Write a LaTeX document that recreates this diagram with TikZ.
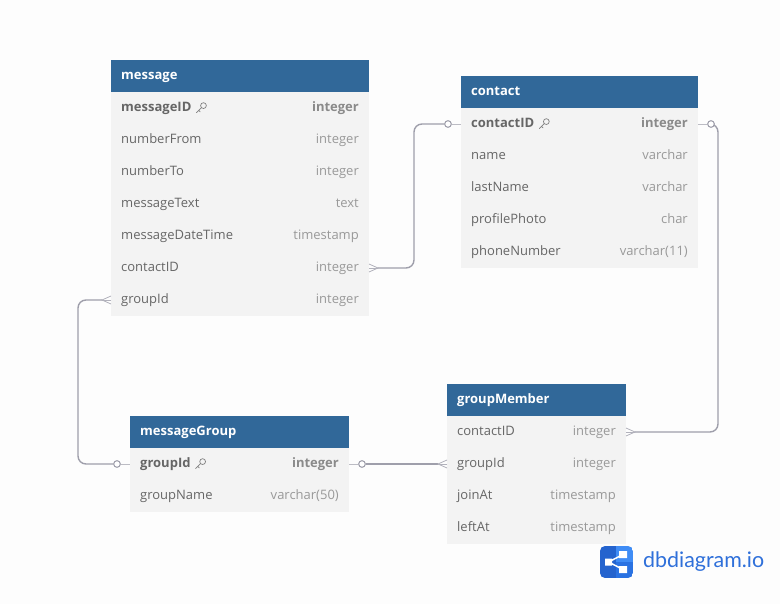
\documentclass[tikz,border=0pt]{standalone}
\usepackage{fontspec}
\setmainfont{Open Sans}
\newfontfamily\logofont{Lato}
\usetikzlibrary{positioning,calc}
\definecolor{headblue}{HTML}{316899}
\definecolor{rowgray}{HTML}{F3F3F3}
\definecolor{namegray}{HTML}{666666}
\definecolor{typegray}{HTML}{999999}
\definecolor{keytype}{HTML}{8A8A8A}
\definecolor{keyline}{HTML}{808080}
\definecolor{linegray}{HTML}{9F9FAB}
\definecolor{pagegray}{HTML}{FDFDFD}
\definecolor{logolight}{HTML}{3F8CF5}
\definecolor{logoblue}{HTML}{2A72E2}
\definecolor{logodark}{HTML}{2463CE}
\definecolor{logotext}{HTML}{2F70DA}
\tikzset{
  headbox/.style={anchor=north west,fill=headblue,minimum height=32pt,inner sep=0pt,outer sep=0pt},
  headtext/.style={anchor=west,text=white,font=\fontsize{13}{15}\selectfont\bfseries,inner sep=0pt,text height=9.5pt,text depth=3pt},
  rowbox/.style={anchor=north west,fill=rowgray,minimum height=32pt,inner sep=0pt,outer sep=0pt},
  nametext/.style={anchor=west,text=namegray,font=\fontsize{13}{15}\selectfont,inner sep=0pt,text height=9.5pt,text depth=3pt},
  typetext/.style={anchor=east,text=typegray,font=\fontsize{13}{15}\selectfont,inner sep=0pt,text height=9.5pt,text depth=3pt},
  keyname/.style={nametext,font=\fontsize{13}{15}\selectfont\bfseries},
  keytypetext/.style={typetext,text=keytype,font=\fontsize{13}{15}\selectfont\bfseries},
  relline/.style={draw=linegray,line width=1.4pt,rounded corners=8pt},
  thinline/.style={draw=linegray!70,line width=.8pt},
  crowline/.style={draw=linegray!80,line width=.8pt},
  onedot/.style={circle,draw=linegray,line width=.9pt,fill=white,minimum size=6.5pt,inner sep=0pt},
  keyicon/.pic={
    \draw[keyline,line width=.7pt] (2.4,-2.4) circle (2.9pt);
    \draw[keyline,line width=.7pt,line cap=round] (.4,-.4) -- (-4.6,4.6) (-2.4,2.4) -- (-.9,3.9);
  }
}
\begin{document}
\begin{tikzpicture}[x=1pt,y=-1pt]
  \useasboundingbox (0,0) rectangle (780,604);
  \fill[pagegray] (0,0) rectangle (780,604);
  % message
  \node[headbox,minimum width=258pt] (message) at (111,60) {};
  \node[headtext] (message-title) at ([xshift=10pt]message.west) {message};
  \node[rowbox,minimum width=258pt] (message-messageID) at (111,92) {};
  \node[keyname] (message-messageID-name) at ([xshift=10pt]message-messageID.west) {messageID};
  \node[keytypetext] (message-messageID-type) at ([xshift=-10pt]message-messageID.east) {integer};
  \path (message-messageID-name.east) ++(9.5,0) pic {keyicon};
  \foreach \fname/\ftype [count=\i] in {numberFrom/integer,numberTo/integer,messageText/text,messageDateTime/timestamp,contactID/integer,groupId/integer}{
    \node[rowbox,minimum width=258pt] (message-\fname) at (111,92+32*\i) {};
    \node[nametext] (message-\fname-name) at ([xshift=10pt]message-\fname.west) {\fname};
    \node[typetext] (message-\fname-type) at ([xshift=-10pt]message-\fname.east) {\ftype};
  }
  % contact
  \node[headbox,minimum width=237pt] (contact) at (461,76) {};
  \node[headtext] (contact-title) at ([xshift=10pt]contact.west) {contact};
  \node[rowbox,minimum width=237pt] (contact-contactID) at (461,108) {};
  \node[keyname] (contact-contactID-name) at ([xshift=10pt]contact-contactID.west) {contactID};
  \node[keytypetext] (contact-contactID-type) at ([xshift=-10pt]contact-contactID.east) {integer};
  \path (contact-contactID-name.east) ++(9.5,0) pic {keyicon};
  \foreach \fname/\ftype [count=\i] in {name/varchar,lastName/varchar,profilePhoto/char,phoneNumber/varchar(11)}{
    \node[rowbox,minimum width=237pt] (contact-\fname) at (461,108+32*\i) {};
    \node[nametext] (contact-\fname-name) at ([xshift=10pt]contact-\fname.west) {\fname};
    \node[typetext] (contact-\fname-type) at ([xshift=-10pt]contact-\fname.east) {\ftype};
  }
  % messageGroup
  \node[headbox,minimum width=219pt] (messageGroup) at (130,416) {};
  \node[headtext] (messageGroup-title) at ([xshift=10pt]messageGroup.west) {messageGroup};
  \node[rowbox,minimum width=219pt] (messageGroup-groupId) at (130,448) {};
  \node[keyname] (messageGroup-groupId-name) at ([xshift=10pt]messageGroup-groupId.west) {groupId};
  \node[keytypetext] (messageGroup-groupId-type) at ([xshift=-10pt]messageGroup-groupId.east) {integer};
  \path (messageGroup-groupId-name.east) ++(9.5,0) pic {keyicon};
  \node[rowbox,minimum width=219pt] (messageGroup-groupName) at (130,480) {};
  \node[nametext] (messageGroup-groupName-name) at ([xshift=10pt]messageGroup-groupName.west) {groupName};
  \node[typetext] (messageGroup-groupName-type) at ([xshift=-10pt]messageGroup-groupName.east) {varchar(50)};
  % groupMember
  \node[headbox,minimum width=179pt] (groupMember) at (447,384) {};
  \node[headtext] (groupMember-title) at ([xshift=10pt]groupMember.west) {groupMember};
  \foreach \fname/\ftype [count=\i from 0] in {contactID/integer,groupId/integer,joinAt/timestamp,leftAt/timestamp}{
    \node[rowbox,minimum width=179pt] (groupMember-\fname) at (447,416+32*\i) {};
    \node[nametext] (groupMember-\fname-name) at ([xshift=10pt]groupMember-\fname.west) {\fname};
    \node[typetext] (groupMember-\fname-type) at ([xshift=-10pt]groupMember-\fname.east) {\ftype};
  }
  % dots, crow feet and bends
  \node[onedot] (dotContactL) at ([xshift=-13pt]contact-contactID.west) {};
  \node[onedot] (dotContactR) at ([xshift=13pt]contact-contactID.east) {};
  \node[onedot] (dotGroupL) at ([xshift=-13pt]messageGroup-groupId.west) {};
  \node[onedot] (dotGroupR) at ([xshift=13pt]messageGroup-groupId.east) {};
  \coordinate (crowMessage) at ([xshift=9pt]message-contactID.east);
  \coordinate (crowMember) at ([xshift=9pt]groupMember-contactID.east);
  \coordinate (crowGroup) at ([xshift=-9pt]message-groupId.west);
  \coordinate (crowMemberG) at ([xshift=-9pt]groupMember-groupId.west);
  \coordinate (bendContact) at (414,200);
  \coordinate (bendMember) at (718,280);
  \coordinate (bendGroup) at (78,380);
  % relations
  \draw[thinline] (dotContactL) -- (contact-contactID.west);
  \draw[thinline] (dotContactR) -- (contact-contactID.east);
  \draw[thinline] (dotGroupL) -- (messageGroup-groupId.west);
  \draw[thinline] (dotGroupR) -- (messageGroup-groupId.east);
  \draw[relline] (crowMessage) -| (bendContact) |- (dotContactL);
  \draw[relline] (dotContactR) -| (bendMember) |- (crowMember);
  \draw[relline] (crowGroup) -| (bendGroup) |- (dotGroupL);
  \draw[relline] (dotGroupR) -- (crowMemberG);
  \foreach \n/\s in {message-contactID.east/1,groupMember-contactID.east/1,message-groupId.west/-1,groupMember-groupId.west/-1}{
    \draw[crowline] ($(\n)+(0,-4)$) -- ($(\n)+(\s*9,0)$) -- ($(\n)+(0,4)$);
    \draw[crowline] (\n) -- ($(\n)+(\s*9,0)$);
  }
  \node[onedot] at (dotContactL) {};
  \node[onedot] at (dotContactR) {};
  \node[onedot] at (dotGroupL) {};
  \node[onedot] at (dotGroupR) {};
  % logo
  \begin{scope}
    \clip[rounded corners=5pt] (600,546) rectangle (633,578);
    \fill[logodark] (600,546) rectangle (616,578);
    \fill[logolight] (616,546) rectangle (633,562);
    \fill[logoblue] (616,562) rectangle (633,578);
  \end{scope}
  \fill[white] (605,558.5) rectangle (612,565.5) (619,551) rectangle (627,558) (619,566) rectangle (627,573);
  \draw[white,line width=1.5pt] (623,554.5) -- (608.5,562) -- (623,569.5);
  \node[anchor=west,inner sep=0pt,text=logotext,font=\logofont\fontsize{21.4}{23}\selectfont] (logo) at (643,562) {dbdiagram.io};
\end{tikzpicture}
\end{document}
